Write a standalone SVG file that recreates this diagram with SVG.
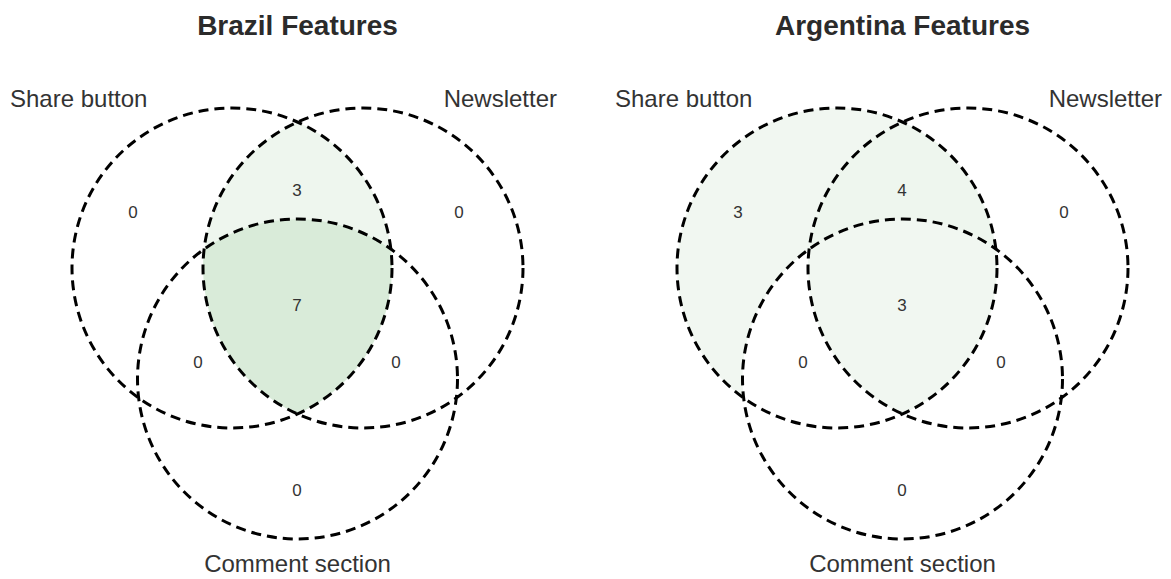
<svg xmlns="http://www.w3.org/2000/svg" width="1171" height="579" viewBox="0 0 1171 579">
<style>
.title{font-family:"Liberation Sans",Arial,sans-serif;font-weight:bold;font-size:28px;fill:#2b2b2b;text-anchor:middle}
.lbl{font-family:"Liberation Sans",Arial,sans-serif;font-size:24px;fill:#333}
.num{font-family:"Liberation Sans",Arial,sans-serif;font-size:17px;fill:#333;text-anchor:middle}
.ring{fill:none;stroke:#000;stroke-width:3;stroke-dasharray:10 6}
</style>
<rect width="1171" height="579" fill="#fff"/>
<g id="brazil">
  <text class="title" x="297.5" y="35">Brazil Features</text>
  <g id="brazil-regions">
    <path id="brazil-ab" d="M 297.5 122.02 A 160 160 0 0 0 204.11 249.07 A 160 160 0 0 1 390.89 249.07 A 160 160 0 0 0 297.5 122.02 Z" fill="#eef6ee"/>
    <path id="brazil-abc" d="M 204.11 249.07 A 160 160 0 0 1 390.89 249.07 A 160 160 0 0 1 297.5 413.98 A 160 160 0 0 1 204.11 249.07 Z" fill="#d9ebd9"/>
  </g>
  <g id="brazil-share"><circle class="ring" cx="232" cy="268" r="160"/><text class="lbl" x="10" y="107">Share button</text></g>
  <g id="brazil-newsletter"><circle class="ring" cx="363" cy="268" r="160"/><text class="lbl" x="557" y="107" text-anchor="end">Newsletter</text></g>
  <g id="brazil-comment"><circle class="ring" cx="297.5" cy="379" r="160"/><text class="lbl" x="297.5" y="572" text-anchor="middle">Comment section</text></g>
  <g id="brazil-counts">
    <text class="num" x="133" y="218">0</text>
    <text class="num" x="297" y="196">3</text>
    <text class="num" x="459" y="218">0</text>
    <text class="num" x="297" y="311">7</text>
    <text class="num" x="198" y="368">0</text>
    <text class="num" x="396" y="368">0</text>
    <text class="num" x="297" y="496">0</text>
  </g>
</g>
<g id="argentina" transform="translate(605 0)">
  <text class="title" x="297.5" y="35">Argentina Features</text>
  <g id="argentina-regions">
    <path id="argentina-a" d="M 297.5 122.02 A 160 160 0 0 0 138.61 397.93 A 160 160 0 0 1 204.11 249.07 A 160 160 0 0 1 297.5 122.02 Z" fill="#f1f7f1"/>
    <path id="argentina-ab" d="M 297.5 122.02 A 160 160 0 0 0 204.11 249.07 A 160 160 0 0 1 390.89 249.07 A 160 160 0 0 0 297.5 122.02 Z" fill="#eef6ee"/>
    <path id="argentina-abc" d="M 204.11 249.07 A 160 160 0 0 1 390.89 249.07 A 160 160 0 0 1 297.5 413.98 A 160 160 0 0 1 204.11 249.07 Z" fill="#f1f7f1"/>
  </g>
  <g id="argentina-share"><circle class="ring" cx="232" cy="268" r="160"/><text class="lbl" x="10" y="107">Share button</text></g>
  <g id="argentina-newsletter"><circle class="ring" cx="363" cy="268" r="160"/><text class="lbl" x="557" y="107" text-anchor="end">Newsletter</text></g>
  <g id="argentina-comment"><circle class="ring" cx="297.5" cy="379" r="160"/><text class="lbl" x="297.5" y="572" text-anchor="middle">Comment section</text></g>
  <g id="argentina-counts">
    <text class="num" x="133" y="218">3</text>
    <text class="num" x="297" y="196">4</text>
    <text class="num" x="459" y="218">0</text>
    <text class="num" x="297" y="311">3</text>
    <text class="num" x="198" y="368">0</text>
    <text class="num" x="396" y="368">0</text>
    <text class="num" x="297" y="496">0</text>
  </g>
</g>
</svg>
